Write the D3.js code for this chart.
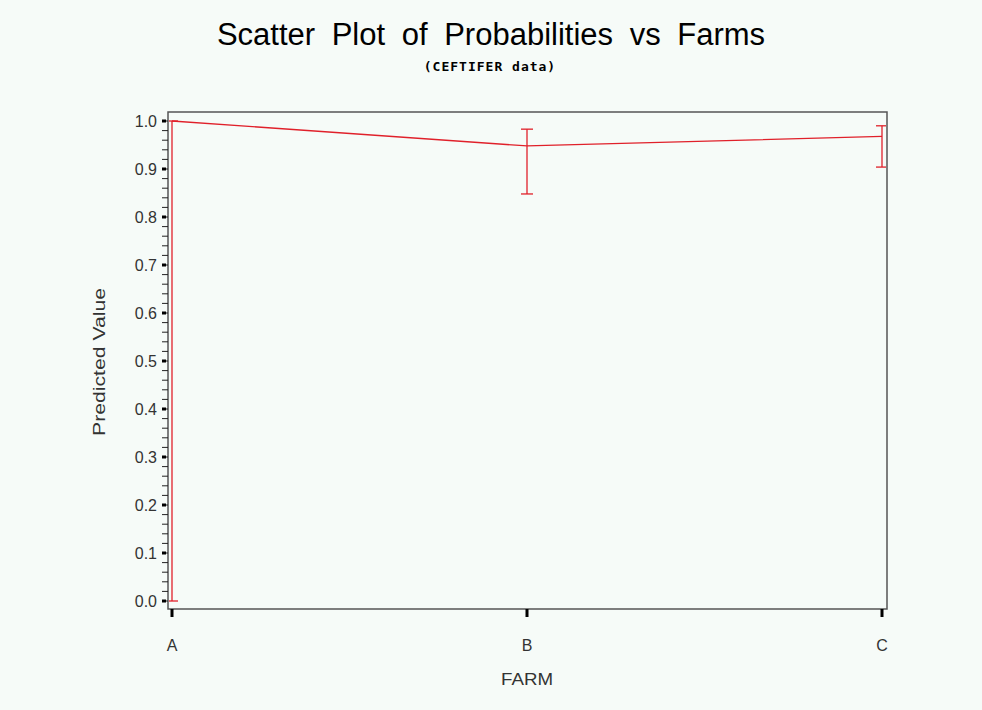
<!DOCTYPE html>
<html>
<head>
<meta charset="utf-8">
<script src="https://cdn.jsdelivr.net/npm/d3@7"></script>
<style>
  body { margin: 0; background: #f6fbf8; }
  text { font-family: "Liberation Sans", Arial, sans-serif; }
</style>
</head>
<body>
<script>
// Data
const farms = ['A', 'B', 'C'];
const predicted = [1.0, 0.948, 0.968];
const lower = [0.0, 0.848, 0.904];
const upper = [1.0, 0.983, 0.990];
const yTicks = [0.0, 0.1, 0.2, 0.3, 0.4, 0.5, 0.6, 0.7, 0.8, 0.9, 1.0];

const width = 982, height = 710;
const frame = { left: 168, right: 887, top: 112, bottom: 609 };

const svg = d3.select('body').append('svg')
  .attr('width', width)
  .attr('height', height);

svg.append('rect')
  .attr('width', width).attr('height', height)
  .attr('fill', '#f6fbf8');

const x = d3.scalePoint().domain(farms).range([172, 882]);
const y = d3.scaleLinear().domain([0, 1]).range([601, 121]);

// frame
svg.append('rect')
  .attr('x', frame.left).attr('y', frame.top)
  .attr('width', frame.right - frame.left)
  .attr('height', frame.bottom - frame.top)
  .attr('fill', 'none')
  .attr('stroke', '#555')
  .attr('stroke-width', 1.5);

// title
svg.append('text')
  .attr('x', 491).attr('y', 45)
  .attr('text-anchor', 'middle')
  .attr('font-size', 31)
  .attr('word-spacing', 8)
  .attr('fill', '#000')
  .text('Scatter Plot of Probabilities vs Farms');

svg.append('text')
  .attr('x', 490).attr('y', 71)
  .attr('text-anchor', 'middle')
  .attr('font-size', 13)
  .attr('font-weight', 'bold')
  .attr('letter-spacing', 1)
  .attr('style', 'font-family: "DejaVu Sans Mono", monospace')
  .text('(CEFTIFER data)');

// y axis ticks
const minor = d3.range(0, 1.0001, 0.02);
svg.selectAll('.minor')
  .data(minor)
  .enter()
  .append('line')
  .attr('x1', 162).attr('x2', frame.left)
  .attr('y1', d => y(d)).attr('y2', d => y(d))
  .attr('stroke', '#222')
  .attr('stroke-width', 1);

svg.selectAll('.major')
  .data(yTicks)
  .enter()
  .append('rect')
  .attr('x', 162).attr('y', d => y(d) - 1.5)
  .attr('width', 4).attr('height', 3)
  .attr('fill', '#000');

svg.selectAll('.ylab')
  .data(yTicks)
  .enter()
  .append('text')
  .attr('x', 157)
  .attr('y', d => y(d))
  .attr('dy', '0.36em')
  .attr('text-anchor', 'end')
  .attr('font-size', 16)
  .attr('fill', '#333')
  .text(d => d3.format('.1f')(d));

// x axis ticks
svg.selectAll('.xtick')
  .data(farms)
  .enter()
  .append('rect')
  .attr('x', d => x(d) - 1.5).attr('y', frame.bottom)
  .attr('width', 3).attr('height', 8)
  .attr('fill', '#000');

svg.selectAll('.xlab')
  .data(farms)
  .enter()
  .append('text')
  .attr('x', d => x(d))
  .attr('y', 651)
  .attr('text-anchor', 'middle')
  .attr('font-size', 16)
  .attr('fill', '#333')
  .text(d => d);

svg.append('text')
  .attr('x', 527).attr('y', 685)
  .attr('text-anchor', 'middle')
  .attr('font-size', 16)
  .attr('textLength', 52)
  .attr('lengthAdjust', 'spacingAndGlyphs')
  .attr('fill', '#333')
  .text('FARM');

svg.append('text')
  .attr('transform', 'translate(105,362) rotate(-90)')
  .attr('text-anchor', 'middle')
  .attr('font-size', 16)
  .attr('textLength', 148)
  .attr('lengthAdjust', 'spacingAndGlyphs')
  .attr('fill', '#333')
  .text('Predicted Value');

// clip to plot area
svg.append('clipPath').attr('id', 'plot-clip')
  .append('rect')
  .attr('x', frame.left + 1).attr('y', frame.top + 1)
  .attr('width', frame.right - frame.left - 2)
  .attr('height', frame.bottom - frame.top - 2);

const plot = svg.append('g').attr('clip-path', 'url(#plot-clip)');
const red = '#e0202a';
const cap = 6;

// connecting line
const line = d3.line()
  .x((d, i) => x(farms[i]))
  .y(d => y(d));

plot.append('path')
  .datum(predicted)
  .attr('d', line)
  .attr('fill', 'none')
  .attr('stroke', red)
  .attr('stroke-width', 1.3);

// error bars
const bars = plot.selectAll('.err')
  .data(farms)
  .enter()
  .append('g');

bars.append('line')
  .attr('x1', d => x(d)).attr('x2', d => x(d))
  .attr('y1', (d, i) => y(lower[i]))
  .attr('y2', (d, i) => y(upper[i]))
  .attr('stroke', red)
  .attr('stroke-width', 1.3);

bars.append('line')
  .attr('x1', d => x(d) - cap).attr('x2', d => x(d) + cap)
  .attr('y1', (d, i) => y(lower[i]))
  .attr('y2', (d, i) => y(lower[i]))
  .attr('stroke', red)
  .attr('stroke-width', 1.3);

bars.append('line')
  .attr('x1', d => x(d) - cap).attr('x2', d => x(d) + cap)
  .attr('y1', (d, i) => y(upper[i]))
  .attr('y2', (d, i) => y(upper[i]))
  .attr('stroke', red)
  .attr('stroke-width', 1.3);
</script>
</body>
</html>
